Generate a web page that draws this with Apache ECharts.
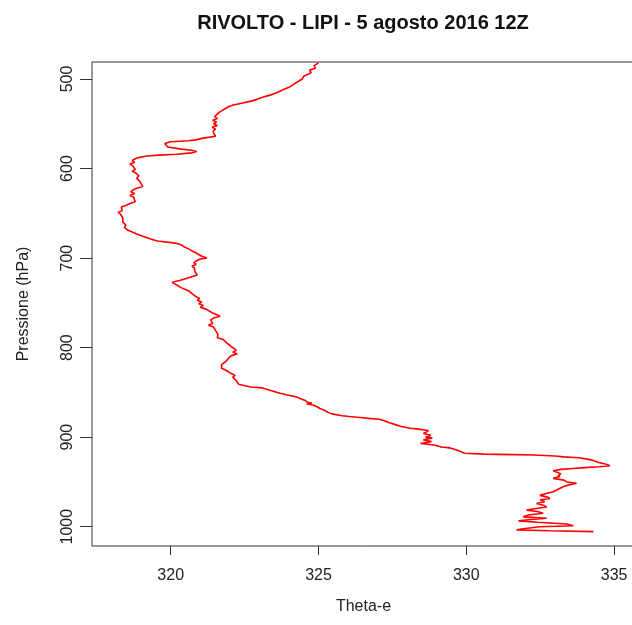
<!DOCTYPE html>
<html>
<head>
<meta charset="utf-8">
<script src="https://cdn.jsdelivr.net/npm/echarts@6/dist/echarts.min.js"></script>
<style>html,body{margin:0;padding:0;background:#fff;overflow:hidden;}#chart{width:640px;height:625px;}</style>
</head>
<body>
<div id="chart"></div>
<script>
var titleText = 'RIVOLTO - LIPI - 5 agosto 2016 12Z';
var xTitle = 'Theta-e';
var yTitle = 'Pressione (hPa)';
var xTicks = [320, 325, 330, 335];
var yTicks = [500, 600, 700, 800, 900, 1000];

var pressure = [
482,485,488,490,493,497,500,503,506,509,512,515,518,521,523,525,527,529,531,533,535,537,540,542,544,546,548,550,552,554,556,558,561,564,566,568,569,570,572,574,576,578,579.5,581,582.5,584,585,586,587.5,589,591,593,595,597,599,601,603,605,608,611,614,617,620,622,624,626,628,630,632,634,637,639,641,643,645,647,649,651,653,655,657,660,663,666,669,671,673,676,679,681,683,684,686,688,690,692,694,696,698,700,701,703,705,707,709,711,713,715,717,719,721,723,725,727,729,731,733,735,737,739,741,743,745,747,749,751,753,755,757,759,761,763,765,767,769,771,773,775,777,779,781,783,785,787,789,791,793,795,797,799,801,803,805,807,809,811,813,815,817,819,821,823,825,827,829,831,833,835,837,839,841,843,844,845,847,849,851,853,855,857,859,861,862,863,864,866,868,870,872,874,876,877,878,879,880,882,884,886,888,890,891,892,893,895,896,898,900,901,903,905,907,908,909,911,912,914,916,918,919,919.5,920,921,922,923,924.5,926,928,930,932,933,934,935,936,937.5,939,941,943,944,946,948,950,951.5,953,955,957,959,961,963,965,967,968.5,970,972,974,976,978,980,981.5,983,985,987,989,990.5,992,993.5,995,997,999,1000,1002,1003.5,1004.5,1005.5
];
var thetaE = [
325.00,324.85,324.90,324.70,324.75,324.50,324.45,324.30,324.15,324.02,323.80,323.60,323.36,323.05,322.90,322.68,322.40,322.12,321.95,321.85,321.75,321.65,321.55,321.48,321.58,321.42,321.55,321.45,321.58,321.40,321.52,321.44,321.46,321.52,321.10,320.85,320.60,320.00,319.80,319.78,319.90,320.30,320.70,320.88,320.70,320.20,319.60,319.20,318.95,318.80,318.70,318.78,318.62,318.72,318.66,318.80,318.70,318.82,318.92,318.85,318.95,319.00,319.05,318.85,318.72,318.65,318.78,318.62,318.75,318.70,318.80,318.62,318.50,318.33,318.28,318.36,318.22,318.30,318.28,318.38,318.40,318.38,318.48,318.44,318.56,318.62,318.85,319.08,319.35,319.55,320.10,320.25,320.40,320.48,320.62,320.72,320.85,320.95,321.05,321.22,321.00,320.88,320.78,320.86,320.72,320.80,320.74,320.82,320.76,320.90,320.86,320.50,320.30,320.05,320.00,320.25,320.35,320.50,320.62,320.70,320.65,320.85,320.98,320.90,321.05,320.95,321.10,321.00,321.20,321.30,321.40,321.55,321.67,321.45,321.35,321.30,321.42,321.28,321.45,321.40,321.52,321.48,321.60,321.65,321.58,321.78,321.75,321.90,321.98,322.05,322.15,322.22,322.10,322.25,322.05,321.98,321.92,321.88,321.80,321.72,321.78,321.72,321.85,321.95,322.05,322.18,322.10,322.15,322.22,322.18,322.30,322.35,322.70,323.10,323.30,323.50,323.70,323.95,324.25,324.40,324.55,324.62,324.78,324.60,324.82,324.95,325.05,325.20,325.30,325.45,325.80,326.05,326.40,326.70,327.05,327.25,327.40,327.60,327.80,328.10,328.40,328.60,328.72,328.78,328.55,328.80,328.62,328.85,328.55,328.82,328.45,328.70,328.95,329.15,329.45,329.65,329.80,329.95,330.60,331.60,332.30,333.00,333.30,333.80,334.10,334.30,334.45,334.70,334.86,334.50,334.00,333.60,333.20,332.94,333.05,333.20,333.10,333.17,332.94,333.30,333.40,333.73,333.50,333.30,333.17,333.05,332.94,332.70,332.49,332.75,332.83,332.50,332.65,332.38,332.60,332.72,332.30,332.04,332.40,332.60,332.10,331.93,332.72,332.20,331.76,332.40,333.40,333.62,332.49,332.00,331.70,332.80,334.30
];

var seriesData = [];
for (var i = 0; i < pressure.length; i++) {
  seriesData.push([thetaE[i], pressure[i]]);
}

var chart = echarts.init(document.getElementById('chart'), null, {renderer: 'canvas'});
var fontFam = '"Liberation Sans", Arial, sans-serif';
chart.setOption({
  animation: false,
  backgroundColor: '#ffffff',
  graphic: [{
    type: 'text',
    x: 363, y: 23,
    style: {
      text: titleText,
      textAlign: 'center', textVerticalAlign: 'middle',
      font: 'bold 20px "Liberation Sans", Arial, sans-serif',
      fill: '#111'
    }
  }],
  grid: {
    left: 92, top: 62, right: 5, bottom: 79,
    show: true, borderColor: '#333', borderWidth: 1, backgroundColor: 'transparent'
  },
  xAxis: {
    type: 'value',
    min: 317.338, max: 335.707,
    name: xTitle, nameLocation: 'middle', nameGap: 53,
    nameTextStyle: {fontFamily: fontFam, fontSize: 16, color: '#222'},
    axisLine: {show: false},
    splitLine: {show: false},
    axisTick: {show: true, customValues: xTicks, length: 9, inside: false, lineStyle: {color: '#333'}},
    axisLabel: {customValues: xTicks, margin: 22, fontFamily: fontFam, fontSize: 16, color: '#222',
      formatter: function (v) { return String(v); }}
  },
  yAxis: {
    type: 'value',
    inverse: true,
    min: 481.0, max: 1021.56,
    name: yTitle, nameLocation: 'middle', nameGap: 60, nameRotate: 90,
    nameTextStyle: {fontFamily: fontFam, fontSize: 16, color: '#222'},
    axisLine: {show: false},
    splitLine: {show: false},
    axisTick: {show: true, customValues: yTicks, length: 12, inside: false, lineStyle: {color: '#333'}},
    axisLabel: {customValues: yTicks, rotate: 90, margin: 16, fontFamily: fontFam, fontSize: 16, color: '#222',
      formatter: function (v) { return String(v); }}
  },
  series: [{
    type: 'line',
    data: seriesData,
    showSymbol: false,
    symbol: 'none',
    clip: true,
    lineStyle: {color: '#ff0000', width: 1.6},
    itemStyle: {color: '#ff0000'}
  }]
});
</script>
</body>
</html>
